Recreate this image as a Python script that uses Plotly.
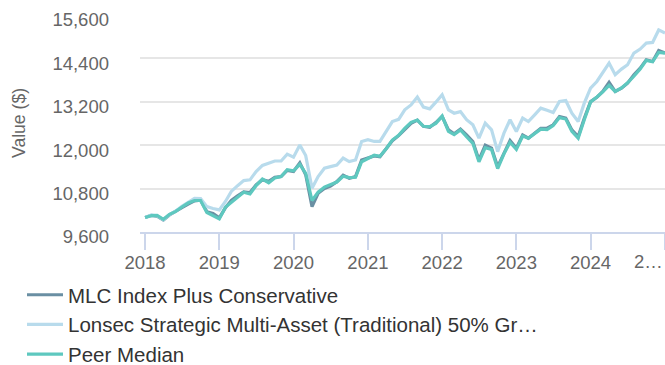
import pandas as pd
import plotly.graph_objects as go

# Monthly growth of a $10,000 investment, Jan 2018 - Jan 2025
dates = pd.date_range("2018-01-01", "2025-01-01", freq="MS")

mlc_index_plus_conservative = [
    10000, 10060, 10040, 9930, 10070, 10160, 10270, 10370, 10460, 10480, 10160, 10115,
    9990, 10280, 10470, 10600, 10710, 10690, 10900, 11040, 11000, 11110, 11130, 11300,
    11270, 11510, 11180, 10300, 10670, 10800, 10870, 10990, 11170, 11085, 11130, 11590,
    11640, 11700, 11680, 11900, 12120, 12260, 12430, 12600, 12690, 12520, 12490, 12620,
    12790, 12420, 12310, 12440, 12280, 12095, 11590, 12000, 11915, 11405, 11770, 12125,
    11915, 12280, 12190, 12330, 12465, 12465, 12560, 12790, 12745, 12420, 12235, 12740,
    13200, 13320, 13480, 13730, 13480, 13570, 13710, 13940, 14126, 14356, 14309, 14613,
    14541,
]

lonsec_benchmark = [
    10000, 10070, 10050, 9940, 10080, 10180, 10310, 10420, 10530, 10520, 10300, 10250,
    10210, 10450, 10720, 10880, 11020, 11040, 11270, 11440, 11500, 11560, 11560, 11750,
    11665, 12000, 11710, 10810, 11130, 11360, 11405, 11450, 11640, 11545, 11590, 12100,
    12150, 12100, 12100, 12375, 12650, 12710, 12975, 13110, 13325, 13050, 13000, 13185,
    13390, 12975, 12880, 12925, 12700, 12560, 12190, 12605, 12420, 11820, 12330, 12700,
    12375, 12745, 12650, 12835, 13020, 12960, 12900, 13203, 13230, 12882, 12650, 13158,
    13573, 13756, 13988, 14265, 13941, 14098, 14218, 14541, 14651, 14818, 14835, 15180,
    15094,
]

peer_median = [
    10000, 10050, 10060, 9950, 10090, 10170, 10290, 10400, 10470, 10470, 10140, 10040,
    9960, 10290, 10420, 10560, 10700, 10650, 10880, 11060, 10960, 11090, 11130, 11320,
    11290, 11470, 11220, 10470, 10700, 10840, 10900, 10980, 11140, 11100, 11110, 11540,
    11630, 11720, 11690, 11900, 12140, 12270, 12460, 12630, 12690, 12520, 12510, 12600,
    12800, 12380, 12290, 12420, 12230, 12050, 11540, 11930, 11880, 11350, 11760, 12080,
    11880, 12250, 12190, 12330, 12440, 12430, 12540, 12760, 12720, 12380, 12190, 12700,
    13190, 13330, 13470, 13650, 13480, 13580, 13720, 13900, 14100, 14340, 14300, 14560,
    14540,
]

series_names = [
    "MLC Index Plus Conservative",
    "Lonsec Strategic Multi-Asset (Traditional) 50% Gr…",
    "Peer Median",
]
series_colors = ["#6a8fa3", "#b8dbec", "#5ec8bf"]

y_ticks = [9600, 10800, 12000, 13200, 14400, 15600]
x_tick_years = [2018, 2019, 2020, 2021, 2022, 2023, 2024, 2025]
x_tick_text = ["2018", "2019", "2020", "2021", "2022", "2023", "2024", ""]

FONT = "Liberation Sans, Arial, Helvetica, sans-serif"
TICK_SIZE = 18.5

fig = go.Figure()
for name, values, color in zip(
    series_names,
    [mlc_index_plus_conservative, lonsec_benchmark, peer_median],
    series_colors,
):
    fig.add_trace(
        go.Scatter(
            x=dates,
            y=values,
            name=name,
            mode="lines",
            line=dict(color=color, width=3.2),
        )
    )

fig.update_layout(
    width=665,
    height=365,
    margin=dict(l=140, r=0, t=14, b=133, autoexpand=False),
    paper_bgcolor="white",
    plot_bgcolor="white",
    font=dict(family=FONT, color="#666666"),
    showlegend=True,
    legend=dict(
        orientation="v",
        x=(22 - 140) / 525,
        xanchor="left",
        y=-0.197,
        yanchor="top",
        font=dict(size=20.5, color="#333333", family=FONT),
        itemwidth=36,
        bgcolor="rgba(0,0,0,0)",
        itemclick=False,
    ),
    annotations=[
        dict(
            x=pd.Timestamp("2025-01-01"),
            xref="x",
            y=0,
            yref="paper",
            yshift=-17,
            text="2…",
            showarrow=False,
            xanchor="right",
            yanchor="top",
            font=dict(size=TICK_SIZE, color="#666666", family=FONT),
        )
    ],
)

fig.update_xaxes(
    type="date",
    range=["2017-12-07", "2025-01-01"],
    tickvals=[pd.Timestamp(f"{y}-01-01") for y in x_tick_years],
    ticktext=x_tick_text,
    ticks="outside",
    ticklen=16,
    tickwidth=1.6,
    tickcolor="#ccd6eb",
    showline=True,
    linecolor="#ccd6eb",
    linewidth=1.6,
    showgrid=False,
    zeroline=False,
    ticklabelstandoff=-3,
    tickfont=dict(size=TICK_SIZE, color="#666666", family=FONT),
)

fig.update_yaxes(
    range=[9600, 15620],
    tickvals=y_ticks,
    tickformat=",d",
    showgrid=True,
    gridcolor="#e6e6e6",
    gridwidth=1.6,
    zeroline=False,
    showline=False,
    ticks="",
    ticklabelstandoff=30,
    ticklabelshift=5,
    tickfont=dict(size=TICK_SIZE, color="#666666", family=FONT),
    title=dict(
        text="Value ($)",
        font=dict(size=17.6, color="#666666", family=FONT),
        standoff=22,
    ),
)

fig.write_html("out.html")
